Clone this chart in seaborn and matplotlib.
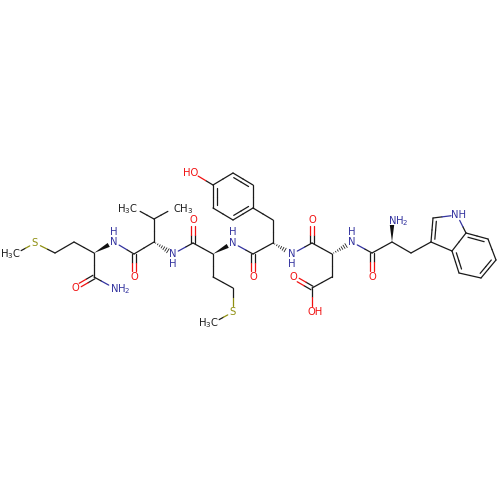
import numpy as np
import pandas as pd
import matplotlib
matplotlib.use("Agg")
import matplotlib.pyplot as plt
import seaborn as sns

# atoms (pixels)
atom_x = [15, 35, 55, 74, 94, 114, 134, 134, 154, 154, 134, 174, 94, 75, 114,
          173, 193, 193, 213, 233, 253, 253, 213, 233, 233, 213,
          273, 273, 253, 233, 213, 213, 233, 253, 193,
          292, 312, 312, 332, 332, 312, 293, 312,
          352, 372, 372, 392, 392, 411, 431, 433, 457, 466, 452, 459, 481, 496, 488]
atom_y = [254, 243, 253, 242, 253, 242, 254, 277, 242, 219, 208, 208, 277, 288, 288,
          254, 243, 220, 254, 243, 254, 277, 277, 288, 312, 323,
          243, 220, 208, 220, 208, 185, 173, 185, 173,
          254, 243, 220, 254, 277, 288, 277, 312,
          242, 253, 277, 242, 219, 253, 242, 218, 215, 233, 251, 273, 278, 260, 239]
atom_el = ["M", "S", "C", "C", "C", "N", "C", "O", "C", "C", "M", "M", "C", "O", "N",
           "N", "C", "O", "C", "N", "C", "O", "C", "C", "S", "M",
           "C", "C", "C", "C", "C", "C", "C", "C", "O",
           "N", "C", "O", "C", "C", "C", "O", "O",
           "N", "C", "O", "C", "N", "C", "C", "C", "N", "C", "C", "C", "C", "C", "C"]

# plain bonds, order 1 = single, 2 = double on both sides, 3 = ring double (inner line)
bond_a = [0, 1, 2, 3, 5, 6, 6, 8, 9, 9, 4, 12, 12,
          15, 16, 16, 18, 19, 20, 20, 22, 23, 24,
          26, 27, 28, 29, 30, 31, 32, 33, 31,
          35, 36, 36, 38, 39, 40, 40,
          43, 44, 44, 46, 48, 49, 50, 51, 52, 53, 53, 54, 55, 56, 57]
bond_b = [1, 2, 3, 4, 6, 7, 8, 9, 10, 11, 12, 13, 14,
          16, 17, 18, 22, 20, 21, 26, 23, 24, 25,
          27, 28, 29, 30, 31, 32, 33, 28, 34,
          36, 37, 38, 39, 40, 41, 42,
          44, 45, 46, 48, 49, 50, 51, 52, 53, 49, 54, 55, 56, 57, 52]
bond_order = [1, 1, 1, 1, 1, 2, 1, 1, 1, 1, 1, 2, 1,
              1, 2, 1, 1, 1, 2, 1, 1, 1, 1,
              1, 1, 3, 1, 3, 1, 3, 1, 1,
              1, 2, 1, 1, 1, 2, 1,
              1, 2, 1, 1, 1, 3, 1, 1, 1, 1, 3, 1, 3, 1, 3]

# stereo bonds (narrow end first)
wedge_a = [4, 18, 46]
wedge_b = [5, 19, 47]
hash_a = [8, 26, 38]
hash_b = [15, 35, 43]

# text labels
label_text = ["H$_3$C", "S", "N", "H", "O", "H$_3$C", "CH$_3$", "O", "NH$_2$", "N", "H", "O", "N", "H",
              "O", "S", "H$_3$C", "HO", "N", "H", "O", "O", "OH", "N", "H", "O", "NH$_2$", "NH"]
label_x = [10, 35, 114, 114, 134, 127, 183, 75, 120, 173, 173, 193, 233, 233,
           253, 233, 208, 191, 292, 292, 312, 293, 315, 352, 352, 372, 398, 459]
label_y = [254, 243, 242, 232, 277, 209, 209, 288, 289, 254, 264, 220, 243, 232,
           277, 312, 323, 173, 254, 264, 220, 277, 312, 242, 232, 277, 221, 215]
label_el = ["C", "S", "N", "N", "O", "C", "C", "O", "N", "N", "N", "O", "N", "N",
            "O", "S", "C", "O", "N", "N", "O", "O", "O", "N", "N", "O", "N", "N"]

colors = {"C": "#1a1a1a", "M": "#1a1a1a", "N": "#33339f", "O": "#f01010", "S": "#8f8f10"}
gaps = {"C": 0, "M": 7, "N": 6, "O": 6, "S": 6}

sns.set_theme(style="white")
fig = plt.figure(figsize=(5, 5), dpi=100)
ax = fig.add_axes([0, 0, 1, 1])

rows = []


def add_half_bonds(p, q, a, b, seg):
    # one bond is two pieces, each coloured like the atom it touches
    mid = (p + q) / 2
    rows.append({"x": p[0], "y": p[1], "seg": seg, "el": a})
    rows.append({"x": mid[0], "y": mid[1], "seg": seg, "el": a})
    rows.append({"x": mid[0], "y": mid[1], "seg": seg + 1, "el": b})
    rows.append({"x": q[0], "y": q[1], "seg": seg + 1, "el": b})


seg = 0
for a, b, order in zip(bond_a, bond_b, bond_order):
    p = np.array([atom_x[a], atom_y[a]], dtype=float)
    q = np.array([atom_x[b], atom_y[b]], dtype=float)
    d = q - p
    u = d / np.hypot(*d)
    n = np.array([-u[1], u[0]])
    ea, eb = atom_el[a], atom_el[b]
    p2 = p + u * gaps[ea]
    q2 = q - u * gaps[eb]
    if order == 1:
        add_half_bonds(p2, q2, ea, eb, seg)
        seg += 2
    elif order == 2:
        add_half_bonds(p2 + n * 2, q2 + n * 2, ea, eb, seg)
        add_half_bonds(p2 - n * 2, q2 - n * 2, ea, eb, seg + 2)
        seg += 4
    else:
        add_half_bonds(p2, q2, ea, eb, seg)
        seg += 2
        # inner line goes towards the ring centre
        center = np.array([233.0, 197.0]) if a < 40 else (
            np.array([477.0, 256.0]) if a != 49 else np.array([447.0, 234.0]))
        side = 1 if np.dot(center - p, n) > 0 else -1
        add_half_bonds(p2 + u * 3 + n * side * 3.6, q2 - u * 3 + n * side * 3.6, ea, eb, seg)
        seg += 2

df = pd.DataFrame(rows)
sns.lineplot(data=df, x="x", y="y", units="seg", hue="el", palette=colors, estimator=None,
             sort=False, lw=0.9, legend=False, ax=ax)

for a, b in zip(wedge_a, wedge_b):
    p = np.array([atom_x[a], atom_y[a]], dtype=float)
    q = np.array([atom_x[b], atom_y[b]], dtype=float)
    u = (q - p) / np.hypot(*(q - p))
    n = np.array([-u[1], u[0]])
    end = q - u * 6
    pts = np.array([p, end + n * 2.2, end - n * 2.2])
    ax.fill(pts[:, 0], pts[:, 1], color="#111111", lw=0)

for a, b in zip(hash_a, hash_b):
    p = np.array([atom_x[a], atom_y[a]], dtype=float)
    q = np.array([atom_x[b], atom_y[b]], dtype=float)
    u = (q - p) / np.hypot(*(q - p))
    n = np.array([-u[1], u[0]])
    length = np.hypot(*(q - p)) - 6
    for t in np.arange(2, length, 2.4):
        c = p + u * t
        w = 2.4 * t / length
        ax.plot([c[0] - n[0] * w, c[0] + n[0] * w], [c[1] - n[1] * w, c[1] + n[1] * w],
                color="#222222", lw=0.6)

for text, x, y, el in zip(label_text, label_x, label_y, label_el):
    ax.text(x, y, text, color=colors[el], fontsize=7.2, ha="center", va="center")

ax.set_xlim(0, 500)
ax.set_ylim(500, 0)
ax.set_axis_off()
fig.savefig("out.png", dpi=100)
